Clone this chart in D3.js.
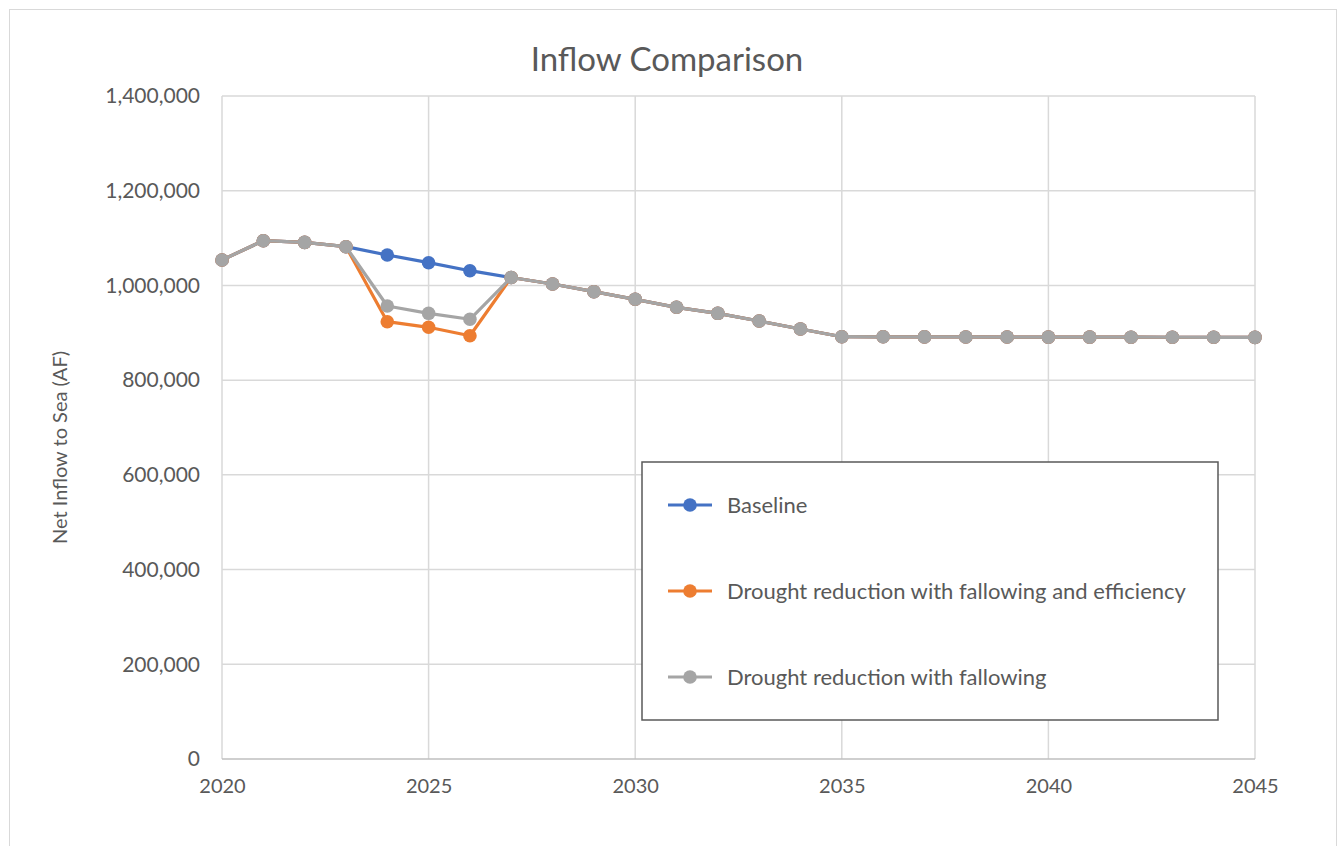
<!DOCTYPE html>
<html>
<head>
<meta charset="utf-8">
<script src="https://cdn.jsdelivr.net/npm/d3@7"></script>
<style>
  body { margin: 0; background: #fff; }
  svg { display: block; font-family: Lato, "Open Sans", sans-serif; }
</style>
</head>
<body>
<div id="chart"></div>
<script>
// Data
const years = d3.range(2020, 2046);
const baseline = [1053700, 1094400, 1091000, 1081800, 1064300, 1048000, 1031100, 1016700,
  1003000, 986800, 970700, 953800, 941100, 924900, 908000, 891700,
  891500, 891300, 891200, 891000, 890900, 890800, 890700, 890600, 890500, 890400];
const droughtEfficiency = [1053700, 1094400, 1091000, 1081800, 923400, 911600, 893800, 1016700,
  1003000, 986800, 970700, 953800, 941100, 924900, 908000, 891700,
  891500, 891300, 891200, 891000, 890900, 890800, 890700, 890600, 890500, 890400];
const droughtFallowing = [1053700, 1094400, 1091000, 1081800, 956500, 941100, 928500, 1016700,
  1003000, 986800, 970700, 953800, 941100, 924900, 908000, 891700,
  891500, 891300, 891200, 891000, 890900, 890800, 890700, 890600, 890500, 890400];
const seriesNames = ["Baseline", "Drought reduction with fallowing and efficiency", "Drought reduction with fallowing"];
const seriesColors = ["#4472C4", "#ED7D31", "#A5A5A5"];
const yTicks = [0, 200000, 400000, 600000, 800000, 1000000, 1200000, 1400000];
const xTicks = [2020, 2025, 2030, 2035, 2040, 2045];

const width = 1344, height = 846;
const margin = { left: 222, right: 89, top: 96, bottom: 87 };

const svg = d3.select('#chart').append('svg')
  .attr('width', width)
  .attr('height', height);

// chart border
svg.append('rect')
  .attr('x', 9.5).attr('y', 9.5)
  .attr('width', 1327).attr('height', 850)
  .attr('fill', '#fff')
  .attr('stroke', '#d9d9d9');

const x = d3.scaleLinear().domain([2020, 2045]).range([margin.left, width - margin.right]);
const y = d3.scaleLinear().domain([0, 1400000]).range([height - margin.bottom, margin.top]);

// gridlines
svg.append('g')
  .selectAll('line.h')
  .data(yTicks.slice(1))
  .join('line')
  .attr('x1', x(2020)).attr('x2', x(2045))
  .attr('y1', d => y(d)).attr('y2', d => y(d))
  .attr('stroke', '#d9d9d9').attr('stroke-width', 1.5);

svg.append('g')
  .selectAll('line.v')
  .data(xTicks)
  .join('line')
  .attr('x1', d => x(d)).attr('x2', d => x(d))
  .attr('y1', y(0)).attr('y2', y(1400000))
  .attr('stroke', '#d9d9d9').attr('stroke-width', 1.5);

// x axis baseline
svg.append('line')
  .attr('x1', x(2020)).attr('x2', x(2045))
  .attr('y1', y(0)).attr('y2', y(0))
  .attr('stroke', '#bfbfbf').attr('stroke-width', 1.5);

// axes via d3
const yAxis = svg.append('g')
  .attr('transform', `translate(${margin.left},0)`)
  .call(d3.axisLeft(y).tickValues(yTicks).tickFormat(d3.format(',')).tickSize(0).tickPadding(22));
yAxis.select('.domain').remove();
yAxis.selectAll('text').attr('fill', '#595959').style('font-size', '21px').attr('font-family', 'Lato, sans-serif');

const xAxis = svg.append('g')
  .attr('transform', `translate(0,${y(0)})`)
  .call(d3.axisBottom(x).tickValues(xTicks).tickFormat(d3.format('d')).tickSize(0).tickPadding(20));
xAxis.select('.domain').remove();
xAxis.selectAll('text').attr('fill', '#595959').style('font-size', '20px').attr('font-family', 'Lato, sans-serif');

// title
svg.append('text')
  .attr('x', 667).attr('y', 71)
  .attr('text-anchor', 'middle')
  .attr('fill', '#595959')
  .style('font-size', '33px')
  .text('Inflow Comparison');

// y axis title
svg.append('text')
  .attr('transform', `translate(67,${(y(0) + y(1400000)) / 2 + 20}) rotate(-90)`)
  .attr('text-anchor', 'middle')
  .attr('fill', '#595959')
  .style('font-size', '20px')
  .text('Net Inflow to Sea (AF)');

// series
const allSeries = [baseline, droughtEfficiency, droughtFallowing];
const line = d3.line().x((d, i) => x(years[i])).y(d => y(d));

allSeries.forEach((vals, si) => {
  const g = svg.append('g');
  g.append('path')
    .datum(vals)
    .attr('d', line)
    .attr('fill', 'none')
    .attr('stroke', seriesColors[si])
    .attr('stroke-width', 3.2)
    .attr('stroke-linejoin', 'round');
  g.selectAll('circle')
    .data(vals)
    .join('circle')
    .attr('cx', (d, i) => x(years[i]))
    .attr('cy', d => y(d))
    .attr('r', 6.8)
    .attr('fill', seriesColors[si]);
});

// legend
const legend = svg.append('g');
legend.append('rect')
  .attr('x', 642).attr('y', 462)
  .attr('width', 576).attr('height', 258)
  .attr('fill', '#fff')
  .attr('stroke', '#595959').attr('stroke-width', 1.5);

const legendY = [505, 591, 677];
seriesNames.forEach((name, i) => {
  legend.append('line')
    .attr('x1', 668).attr('x2', 712)
    .attr('y1', legendY[i]).attr('y2', legendY[i])
    .attr('stroke', seriesColors[i]).attr('stroke-width', 3.2);
  legend.append('circle')
    .attr('cx', 690).attr('cy', legendY[i]).attr('r', 6.8)
    .attr('fill', seriesColors[i]);
  legend.append('text')
    .attr('x', 727).attr('y', legendY[i])
    .attr('dy', '0.35em')
    .attr('fill', '#595959')
    .style('font-size', '22px')
    .text(name);
});
</script>
</body>
</html>
